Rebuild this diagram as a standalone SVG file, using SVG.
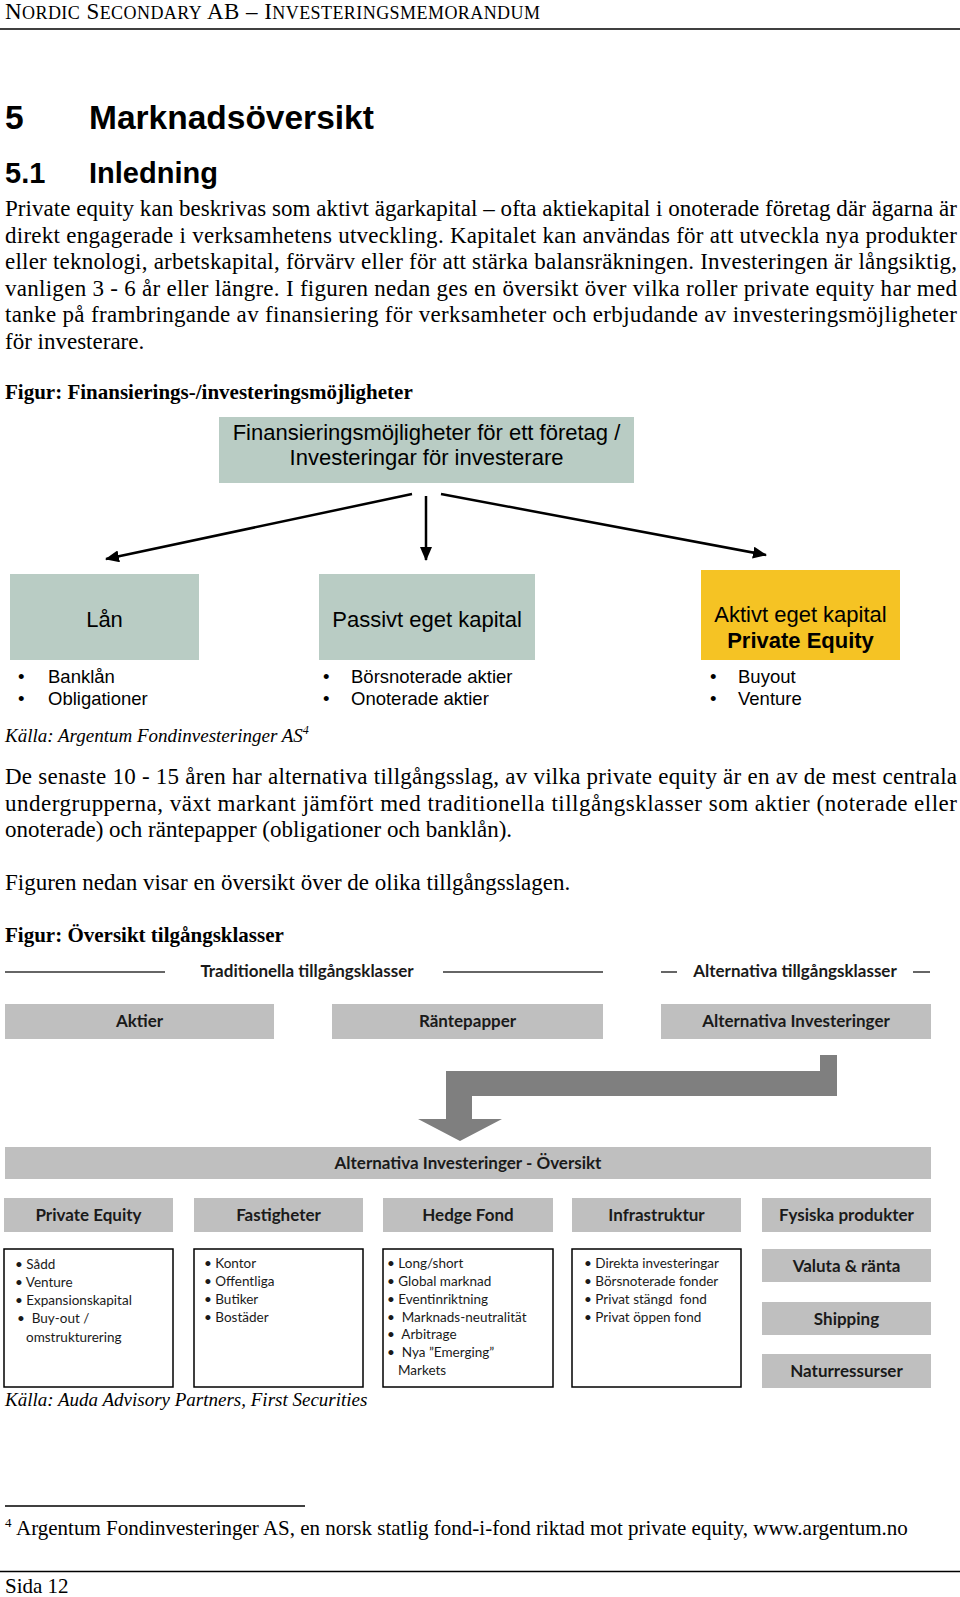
<svg xmlns="http://www.w3.org/2000/svg" width="960" height="1597" viewBox="0 0 960 1597">
<defs>
<style>
.tr{font-family:"Liberation Serif","Times New Roman",serif;fill:#000}
.p{font-size:23px}
.it{font-style:italic;font-size:19px}
.cap{font-weight:bold;font-size:21px}
.h{font-family:"Liberation Sans",Arial,sans-serif;font-weight:bold;fill:#000}
.ar{font-family:"Liberation Sans",Arial,sans-serif;fill:#000}
.a22{font-size:22px}
.bl{font-size:18.5px}
.cal{font-family:Lato,"Liberation Sans",sans-serif;fill:#1a1a1a}
.cb{font-weight:bold;font-size:17px}
.li{font-size:13.5px;white-space:pre}
.g1{fill:#b9ccc4}
.g2{fill:#bfbfbf}
.box{fill:#fff;stroke:#000;stroke-width:1.5}
.rule{stroke:#000;stroke-width:1.3}
.gl{stroke:#333;stroke-width:1.5}
.conn{stroke:#000;stroke-width:2.5;fill:none}
</style>
<marker id="ah" markerUnits="userSpaceOnUse" markerWidth="14" markerHeight="12" refX="13" refY="6" orient="auto"><path d="M0,0 L14,6 L0,12 z" fill="#000"/></marker>
</defs>
<rect width="960" height="1597" fill="#fff"/>

<!-- page header -->
<g id="page-header">
<text class="tr" x="5" y="19" textLength="535" lengthAdjust="spacing"><tspan font-size="23">N</tspan><tspan font-size="18">ORDIC</tspan><tspan font-size="23"> S</tspan><tspan font-size="18">ECONDARY</tspan><tspan font-size="23"> AB – I</tspan><tspan font-size="18">NVESTERINGSMEMORANDUM</tspan></text>
<line class="rule" x1="0" y1="29" x2="960" y2="29"/>
</g>

<g id="headings">
<text class="h" font-size="33.5" x="5" y="129">5</text>
<text class="h" font-size="33.5" x="89" y="129">Marknadsöversikt</text>
<text class="h" font-size="29" x="5" y="183">5.1</text>
<text class="h" font-size="29" x="89" y="183">Inledning</text>
</g>

<g id="paragraph-1" class="tr p">
<text x="5" y="216" textLength="952" lengthAdjust="spacing">Private equity kan beskrivas som aktivt ägarkapital – ofta aktiekapital i onoterade företag där ägarna är</text>
<text x="5" y="242.5" textLength="952" lengthAdjust="spacing">direkt engagerade i verksamhetens utveckling. Kapitalet kan användas för att utveckla nya produkter</text>
<text x="5" y="269" textLength="952" lengthAdjust="spacing">eller teknologi, arbetskapital, förvärv eller för att stärka balansräkningen. Investeringen är långsiktig,</text>
<text x="5" y="295.5" textLength="952" lengthAdjust="spacing">vanligen 3 - 6 år eller längre. I figuren nedan ges en översikt över vilka roller private equity har med</text>
<text x="5" y="322" textLength="952" lengthAdjust="spacing">tanke på frambringande av finansiering för verksamheter och erbjudande av investeringsmöjligheter</text>
<text x="5" y="348.5">för investerare.</text>
</g>

<text class="tr cap" x="5" y="399">Figur: Finansierings-/investeringsmöjligheter</text>

<!-- Figure 1 -->
<g id="fig1-top">
<rect class="g1" x="219" y="417" width="415" height="66"/>
<text class="ar a22" x="426.5" y="440" text-anchor="middle">Finansieringsmöjligheter för ett företag /</text>
<text class="ar a22" x="426.5" y="465" text-anchor="middle">Investeringar för investerare</text>
</g>

<g id="fig1-connectors">
<line class="conn" x1="412" y1="494" x2="106" y2="559" marker-end="url(#ah)"/>
<line class="conn" x1="426" y1="496" x2="426" y2="560" marker-end="url(#ah)"/>
<line class="conn" x1="441" y1="494" x2="766" y2="555" marker-end="url(#ah)"/>
</g>

<g id="fig1-lan">
<rect class="g1" x="10" y="574" width="189" height="86"/>
<text class="ar a22" x="104.5" y="627" text-anchor="middle">Lån</text>
<text class="ar bl" x="18" y="683">•</text><text class="ar bl" x="48" y="683">Banklån</text>
<text class="ar bl" x="18" y="704.5">•</text><text class="ar bl" x="48" y="704.5">Obligationer</text>
</g>

<g id="fig1-passivt">
<rect class="g1" x="319" y="574" width="216" height="86"/>
<text class="ar a22" x="427" y="627" text-anchor="middle">Passivt eget kapital</text>
<text class="ar bl" x="323" y="683">•</text><text class="ar bl" x="351" y="683">Börsnoterade aktier</text>
<text class="ar bl" x="323" y="704.5">•</text><text class="ar bl" x="351" y="704.5">Onoterade aktier</text>
</g>

<g id="fig1-aktivt">
<rect x="701" y="570" width="199" height="90" fill="#f5c324"/>
<text class="ar a22" x="800.5" y="622" text-anchor="middle">Aktivt eget kapital</text>
<text class="h a22" x="800.5" y="648" text-anchor="middle">Private Equity</text>
<text class="ar bl" x="710" y="683">•</text><text class="ar bl" x="738" y="683">Buyout</text>
<text class="ar bl" x="710" y="704.5">•</text><text class="ar bl" x="738" y="704.5">Venture</text>
</g>

<text class="tr it" x="5" y="742">Källa: Argentum Fondinvesteringer AS<tspan font-size="12" dy="-8">4</tspan></text>

<g id="paragraph-2" class="tr p">
<text x="5" y="784" textLength="952" lengthAdjust="spacing">De senaste 10 - 15 åren har alternativa tillgångsslag, av vilka private equity är en av de mest centrala</text>
<text x="5" y="810.5" textLength="952" lengthAdjust="spacing">undergrupperna, växt markant jämfört med traditionella tillgångsklasser som aktier (noterade eller</text>
<text x="5" y="837">onoterade) och räntepapper (obligationer och banklån).</text>
<text x="5" y="890">Figuren nedan visar en översikt över de olika tillgångsslagen.</text>
</g>

<text class="tr cap" x="5" y="942">Figur: Översikt tilgångsklasser</text>

<!-- Figure 2 -->
<g id="fig2-headers">
<line class="gl" x1="5" y1="972" x2="165" y2="972"/>
<line class="gl" x1="443" y1="972" x2="603" y2="972"/>
<line class="gl" x1="661" y1="972" x2="677" y2="972"/>
<line class="gl" x1="913" y1="972" x2="930" y2="972"/>
<text class="cal cb" x="307" y="977" text-anchor="middle">Traditionella tillgångsklasser</text>
<text class="cal cb" x="795" y="977" text-anchor="middle">Alternativa tillgångsklasser</text>
</g>

<g id="fig2-aktier">
<rect class="g2" x="5" y="1004" width="269" height="35"/>
<text class="cal cb" x="139.5" y="1027" text-anchor="middle">Aktier</text>
</g>
<g id="fig2-rantepapper">
<rect class="g2" x="332" y="1004" width="271" height="35"/>
<text class="cal cb" x="467.5" y="1027" text-anchor="middle">Räntepapper</text>
</g>
<g id="fig2-alternativa">
<rect class="g2" x="661" y="1004" width="270" height="35"/>
<text class="cal cb" x="796" y="1027" text-anchor="middle">Alternativa Investeringer</text>
</g>

<g id="fig2-connectors">
<path d="M820,1055 L837,1055 L837,1096 L472,1096 L472,1119 L502,1119 L460,1141 L418,1119 L446,1119 L446,1071 L820,1071 Z" fill="#7f7f7f"/>
</g>

<g id="fig2-oversikt">
<rect class="g2" x="5" y="1147" width="926" height="32"/>
<text class="cal cb" x="468" y="1169" text-anchor="middle">Alternativa Investeringer - Översikt</text>
</g>

<g id="fig2-private-equity">
<rect class="g2" x="4" y="1198" width="169" height="34"/>
<text class="cal cb" x="88.5" y="1221" text-anchor="middle">Private Equity</text>
<rect class="box" x="4" y="1249" width="169" height="138"/>
<text class="cal li" x="15" y="1269">• Sådd</text>
<text class="cal li" x="15" y="1287">• Venture</text>
<text class="cal li" x="15" y="1305">• Expansionskapital</text>
<text class="cal li" x="17" y="1323">•  Buy-out /</text>
<text class="cal li" x="26" y="1342">omstrukturering</text>
</g>

<g id="fig2-fastigheter">
<rect class="g2" x="194" y="1198" width="169" height="34"/>
<text class="cal cb" x="278.5" y="1221" text-anchor="middle">Fastigheter</text>
<rect class="box" x="194" y="1249" width="169" height="138"/>
<text class="cal li" x="204" y="1268">• Kontor</text>
<text class="cal li" x="204" y="1286">• Offentliga</text>
<text class="cal li" x="204" y="1303.5">• Butiker</text>
<text class="cal li" x="204" y="1321.5">• Bostäder</text>
</g>

<g id="fig2-hedge">
<rect class="g2" x="383" y="1198" width="170" height="34"/>
<text class="cal cb" x="468" y="1221" text-anchor="middle">Hedge Fond</text>
<rect class="box" x="383" y="1249" width="170" height="138"/>
<text class="cal li" x="387" y="1268">• Long/short</text>
<text class="cal li" x="387" y="1286">• Global marknad</text>
<text class="cal li" x="387" y="1303.5">• Eventinriktning</text>
<text class="cal li" x="387" y="1321.5">•  Marknads-neutralität</text>
<text class="cal li" x="387" y="1339">•  Arbitrage</text>
<text class="cal li" x="387" y="1357">•  Nya ”Emerging”</text>
<text class="cal li" x="398" y="1374.5">Markets</text>
</g>

<g id="fig2-infrastruktur">
<rect class="g2" x="572" y="1198" width="169" height="34"/>
<text class="cal cb" x="656.5" y="1221" text-anchor="middle">Infrastruktur</text>
<rect class="box" x="572" y="1249" width="169" height="138"/>
<text class="cal li" x="584" y="1268">• Direkta investeringar</text>
<text class="cal li" x="584" y="1286">• Börsnoterade fonder</text>
<text class="cal li" x="584" y="1303.5">• Privat stängd  fond</text>
<text class="cal li" x="584" y="1321.5">• Privat öppen fond</text>
</g>

<g id="fig2-fysiska">
<rect class="g2" x="762" y="1198" width="169" height="34"/>
<text class="cal cb" x="846.5" y="1221" text-anchor="middle">Fysiska produkter</text>
</g>
<g id="fig2-valuta">
<rect class="g2" x="762" y="1249" width="169" height="33"/>
<text class="cal cb" x="846.5" y="1271.5" text-anchor="middle">Valuta &amp; ränta</text>
</g>
<g id="fig2-shipping">
<rect class="g2" x="762" y="1302" width="169" height="33"/>
<text class="cal cb" x="846.5" y="1324.5" text-anchor="middle">Shipping</text>
</g>
<g id="fig2-naturressurser">
<rect class="g2" x="762" y="1354" width="169" height="34"/>
<text class="cal cb" x="846.5" y="1377" text-anchor="middle">Naturressurser</text>
</g>

<text class="tr it" x="5" y="1406">Källa: Auda Advisory Partners, First Securities</text>

<g id="footnote">
<line class="rule" x1="5" y1="1506" x2="305" y2="1506"/>
<text class="tr" font-size="13" x="5" y="1527">4</text>
<text class="tr" font-size="21" x="16" y="1535">Argentum Fondinvesteringer AS, en norsk statlig fond-i-fond riktad mot private equity, www.argentum.no</text>
</g>

<g id="page-footer">
<line class="rule" x1="0" y1="1571.5" x2="960" y2="1571.5"/>
<text class="tr" font-size="21" x="5" y="1593">Sida 12</text>
</g>
</svg>
